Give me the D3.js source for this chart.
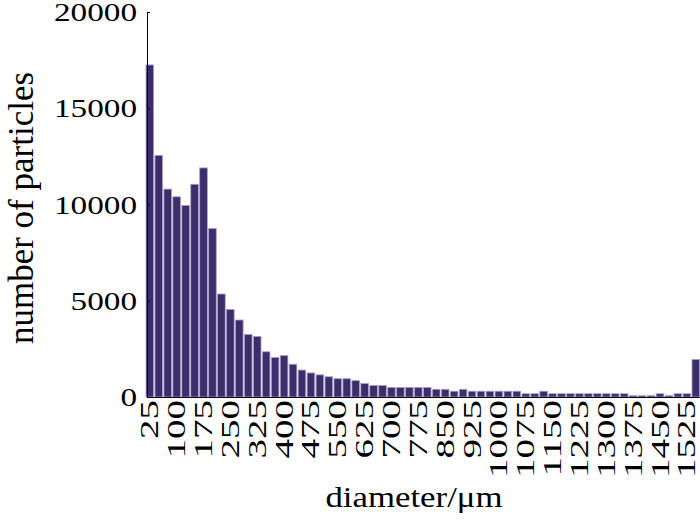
<!DOCTYPE html>
<html>
<head>
<meta charset="utf-8">
<script src="https://cdn.jsdelivr.net/npm/d3@7"></script>
<style>
  body { margin: 0; background: #fff; }
  svg text { font-family: "Liberation Serif", "Times New Roman", serif; fill: #000; }
</style>
</head>
<body>
<div id="chart"></div>
<script>
// particle size bins (µm), last one is the overflow bin
const diameters = d3.range(25, 1551, 25);
const counts = [
	17250, 12550, 10800, 10400, 9950, 11050, 11900, 8750, 5350, 4550,
	4000, 3250, 3150, 2350, 2050, 2150, 1700, 1400, 1250, 1150,
	1050, 950, 950, 850, 700, 600, 600, 500, 500, 500,
	500, 500, 400, 400, 300, 400, 300, 300, 300, 300,
	300, 300, 170, 170, 300, 170, 170, 170, 170, 170,
	170, 170, 170, 170, 70, 70, 70, 170, 70, 170,
	170, 1950
];
const xTicks = d3.range(25, 1526, 75);
const yTicks = [0, 5000, 10000, 15000, 20000];

const width = 700, height = 520;
const svg = d3.select('#chart').append('svg')
	.attr('width', width)
	.attr('height', height);

const scaleX = d3.scaleBand().domain(diameters).range([146, 699.6]).paddingInner(0.15).paddingOuter(0);
const scaleY = d3.scaleLinear().domain([0, 20000]).range([397, 12]);

//Bars
svg.append('g').attr('class', 'bars')
	.selectAll('rect')
	.data(diameters.map((d, i) => ({d, v: counts[i]})))
	.enter().append('rect')
	.attr('x', d => scaleX(d.d))
	.attr('width', scaleX.bandwidth())
	.attr('y', d => scaleY(d.v))
	.attr('height', d => scaleY(0) - scaleY(d.v))
	.style('fill', '#3b2e6b')
	.style('stroke', '#a99fca')
	.style('stroke-width', 0.8);

//X axis baseline + labels
const axisX = d3.axisBottom(scaleX)
	.tickValues(xTicks)
	.tickSize(0)
	.tickPadding(0);
const gx = svg.append('g')
	.attr('transform', `translate(0,${scaleY(0)})`)
	.call(axisX);
gx.select('.domain').attr('d', `M147,0.5H699.6`).style('stroke', '#000').style('stroke-width', 1);
gx.selectAll('.tick text')
	.attr('y', null).attr('dy', '0.33em')
	.style('font-size', '26px')
	.attr('text-anchor', 'end')
	.attr('transform', 'translate(0,3) rotate(-90) scale(1.5,1)');

//Y axis, ticks pointing inside
const axisY = d3.axisRight(scaleY)
	.tickValues(yTicks)
	.tickSize(3)
	.tickFormat(d3.format('d'));
const gy = svg.append('g')
	.attr('transform', 'translate(147,0)')
	.call(axisY);
gy.select('.domain').attr('d', `M0.5,${scaleY(20000)}V${scaleY(0)}`).style('stroke', '#000');
gy.selectAll('.tick line').style('stroke', '#000');
gy.selectAll('.tick text')
	.attr('x', null).attr('dy', '0.34em')
	.style('font-size', '25px')
	.attr('text-anchor', 'end')
	.attr('transform', 'translate(-10,0) scale(1.33,1)');

//Axis titles
svg.append('text')
	.attr('transform', 'translate(414,507) scale(1.2,1)')
	.attr('text-anchor', 'middle')
	.style('font-size', '29px')
	.text('diameter/μm');

svg.append('text')
	.attr('transform', 'translate(33,208) rotate(-90)')
	.attr('text-anchor', 'middle')
	.style('font-size', '35px')
	.text('number of particles');
</script>
</body>
</html>
